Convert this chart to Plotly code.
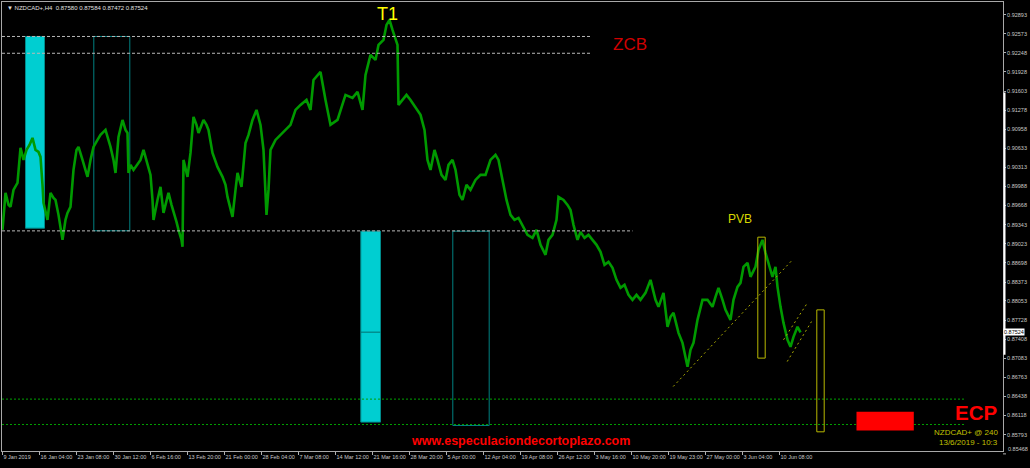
import plotly.graph_objects as go

# ---- price series (H4 bar index, close) ----
bars = [0, 3, 6, 8, 11, 15, 18, 21, 24, 27, 30, 33, 36, 38, 40, 41, 45, 48, 51, 53, 56, 58, 60, 63, 65, 68,
        71, 74, 76, 80, 83, 85, 88, 91, 95, 98, 103, 106, 108, 111, 113, 116, 120, 123, 125, 126, 128, 131,
        135, 138, 141, 145, 148, 150, 151, 155, 158, 161, 164, 166, 169, 171, 174, 176, 179, 180, 181, 185,
        188, 191, 194, 196, 199, 201, 204, 206, 210, 215, 220, 223, 225, 228, 230, 233, 235, 239, 243, 246,
        248, 250, 254, 258, 261, 264, 266, 268, 273, 278, 283, 288, 293, 298, 304, 308, 311, 315, 318, 323,
        328, 335, 343, 350, 355, 360, 363, 368, 373, 376, 381, 384, 387, 390, 393, 395, 396, 400, 404, 408,
        413, 418, 422, 425, 428, 432, 435, 439, 443, 446, 450, 453, 457, 460, 464, 468, 473, 478, 483, 488,
        493, 496, 500, 504, 508, 512, 516, 520, 525, 530, 534, 538, 543, 546, 550, 554, 556, 561, 565, 568,
        571, 575, 578, 582, 586, 590, 594, 598, 602, 606, 610, 614, 618, 622, 626, 630, 634, 638, 643, 648,
        653, 656, 661, 665, 668, 671, 676, 680, 685, 688, 691, 695, 700, 705, 710, 713, 716, 720, 723, 728,
        731, 735, 738, 741, 745, 748, 753, 756, 760, 763, 766, 770, 773, 775, 778, 781, 785, 788, 791, 795, 798]
close = [0.89255, 0.89880, 0.89678, 0.89644, 0.89931, 0.90049, 0.90641, 0.90438, 0.90607, 0.90692, 0.90810,
         0.90607, 0.90573, 0.90489, 0.90016, 0.89711, 0.89424, 0.89880, 0.89796, 0.89762, 0.89509, 0.89306,
         0.89086, 0.89424, 0.89542, 0.89644, 0.90269, 0.90607, 0.90658, 0.90438, 0.90269, 0.90151, 0.90438,
         0.90658, 0.90776, 0.90861, 0.90945, 0.90776, 0.90658, 0.90438, 0.90218, 0.90827, 0.91114, 0.90945,
         0.90894, 0.90218, 0.90354, 0.90269, 0.90354, 0.90438, 0.90607, 0.90387, 0.90185, 0.89762, 0.89424,
         0.89762, 0.89982, 0.89542, 0.89762, 0.89880, 0.89678, 0.89542, 0.89390, 0.89255, 0.89086, 0.88968,
         0.90438, 0.90151, 0.90556, 0.91165, 0.91030, 0.90894, 0.91030, 0.91114, 0.91030, 0.90945, 0.90556,
         0.90320, 0.90151, 0.90016, 0.89813, 0.89593, 0.89475, 0.89931, 0.90218, 0.89982, 0.90725, 0.90861,
         0.90996, 0.91114, 0.91283, 0.91030, 0.90607, 0.89509, 0.89931, 0.90607, 0.90776, 0.90861, 0.90945,
         0.91030, 0.91283, 0.91368, 0.91452, 0.91283, 0.91790, 0.91875, 0.91925, 0.91452, 0.91030, 0.91114,
         0.91537, 0.91486, 0.91587, 0.91283, 0.91875, 0.92213, 0.92128, 0.92382, 0.92466, 0.92720, 0.92804,
         0.92635, 0.92466, 0.92382, 0.91368, 0.91452, 0.91537, 0.91452, 0.91317, 0.91199, 0.90945, 0.90438,
         0.90269, 0.90607, 0.90438, 0.90185, 0.90100, 0.90354, 0.90438, 0.90269, 0.89847, 0.89762, 0.90016,
         0.89931, 0.90100, 0.90185, 0.90185, 0.90438, 0.90523, 0.90438, 0.90100, 0.89762, 0.89509, 0.89424,
         0.89458, 0.89340, 0.89171, 0.89120, 0.89255, 0.89002, 0.88833, 0.89086, 0.89171, 0.89424, 0.89813,
         0.89762, 0.89678, 0.89593, 0.89340, 0.89086, 0.89221, 0.89120, 0.89171, 0.89086, 0.89002, 0.88883,
         0.88664, 0.88714, 0.88613, 0.88410, 0.88275, 0.88326, 0.88157, 0.88072, 0.88157, 0.88072, 0.88190,
         0.88410, 0.88072, 0.87954, 0.88190, 0.87616, 0.87785, 0.87852, 0.87514, 0.87345, 0.86940, 0.87227,
         0.87345, 0.87734, 0.88072, 0.88072, 0.87954, 0.88123, 0.88275, 0.88072, 0.87903, 0.87734, 0.88072,
         0.88292, 0.88359, 0.88630, 0.88697, 0.88461, 0.88630, 0.88917, 0.89086, 0.88866, 0.88697, 0.88461,
         0.88630, 0.88292, 0.87954, 0.87683, 0.87396, 0.87278, 0.87447, 0.87616, 0.87524]

x_tick_bars = [0, 37, 74, 111, 148, 185, 222, 259, 296, 333, 370, 407, 444, 481, 518, 555, 592, 629, 666, 703, 740, 777]
x_tick_labels = ["9 Jan 2019", "16 Jan 04:00", "23 Jan 08:00", "30 Jan 12:00", "6 Feb 16:00", "13 Feb 20:00",
                 "21 Feb 00:00", "28 Feb 04:00", "7 Mar 08:00", "14 Mar 12:00", "21 Mar 16:00", "28 Mar 20:00",
                 "5 Apr 00:00", "12 Apr 04:00", "19 Apr 08:00", "26 Apr 12:00", "3 May 16:00", "10 May 20:00",
                 "19 May 23:00", "27 May 00:00", "3 Jun 04:00", "10 Jun 08:00"]
y_tick_vals = [0.92893, 0.92573, 0.92248, 0.91928, 0.91603, 0.91278, 0.90958, 0.90633, 0.90313, 0.89988,
               0.89668, 0.89343, 0.89023, 0.88698, 0.88373, 0.88053, 0.87728, 0.87408, 0.87083, 0.86763,
               0.86438, 0.86118, 0.85793]
y_bottom_label = 0.85468
last_price = 0.87524
header = "\u25BC NZDCAD+,H4  0.87580 0.87584 0.87472 0.87524"

# ---- drawn objects (levels in price, spans in bar index) ----
zcb_top, zcb_bottom = 0.92525, 0.92241
base_level = 0.89238
green_levels = [0.86394, 0.85965]
cyan_boxes = [(23, 42, 0.92525, 0.89284), (358.3, 378, 0.89233, 0.86005)]
cyan_mid = 0.87526
outline_boxes = [(91.3, 127.3, 0.92525, 0.89240), (450.3, 486.7, 0.89233, 0.85948)]
yellow_boxes = [(755.3, 762.7, 0.89132, 0.87087), (814.3, 821.7, 0.87903, 0.85841)]
trend_lines = [(670.7, 0.86607, 789, 0.88731), (781, 0.87396, 804.7, 0.88016), (784.7, 0.87029, 809, 0.87705)]
red_box = (854, 911.3, 0.86179, 0.85863)
axis_highlight = (0.91577, 0.87142)

Y_MIN, Y_MAX = 0.855168, 0.931077
X_MIN, X_MAX = -0.5, 1000.5
FONT = "Liberation Sans"

fig = go.Figure()
fig.add_trace(go.Scatter(x=bars, y=close, mode="lines",
                         line=dict(color="#009a00", width=2.6), hoverinfo="skip"))

shapes = []
for x0, x1, y0, y1 in cyan_boxes:
    shapes.append(dict(type="rect", xref="x", yref="y", x0=x0, x1=x1, y0=y0, y1=y1,
                       fillcolor="#00ced1", line=dict(color="#008b8b", width=1), layer="below"))
shapes.append(dict(type="line", xref="x", yref="y", x0=cyan_boxes[1][0], x1=cyan_boxes[1][1],
                   y0=cyan_mid, y1=cyan_mid, line=dict(color="#007070", width=1), layer="below"))
for x0, x1, y0, y1 in outline_boxes:
    shapes.append(dict(type="rect", xref="x", yref="y", x0=x0, x1=x1, y0=y0, y1=y1,
                       line=dict(color="#008080", width=1), layer="below"))
for lv in (zcb_top, zcb_bottom):
    shapes.append(dict(type="line", xref="x", yref="y", x0=X_MIN, x1=588, y0=lv, y1=lv,
                       line=dict(color="#b8b8b8", width=1, dash="3px,2px")))
shapes.append(dict(type="line", xref="x", yref="y", x0=X_MIN, x1=630, y0=base_level, y1=base_level,
                   line=dict(color="#b8b8b8", width=1, dash="3px,2px")))
for lv in green_levels:
    shapes.append(dict(type="line", xref="x", yref="y", x0=X_MIN, x1=963, y0=lv, y1=lv,
                       line=dict(color="#00a000", width=1, dash="2px,2px")))
for x0, x1, y0, y1 in yellow_boxes:
    shapes.append(dict(type="rect", xref="x", yref="y", x0=x0, x1=x1, y0=y0, y1=y1,
                       line=dict(color="#b8b800", width=1)))
for x0, y0, x1, y1 in trend_lines:
    shapes.append(dict(type="line", xref="x", yref="y", x0=x0, x1=x1, y0=y0, y1=y1,
                       line=dict(color="#a8a800", width=1, dash="2px,3px")))
shapes.append(dict(type="rect", xref="x", yref="y", x0=red_box[0], x1=red_box[1], y0=red_box[2], y1=red_box[3],
                   fillcolor="#ff0000", line=dict(width=0)))
shapes.append(dict(type="line", xref="paper", yref="y", x0=1.0015, x1=1.0015,
                   y0=axis_highlight[0], y1=axis_highlight[1], line=dict(color="#ffffff", width=2)))

bottom_frac = (y_bottom_label - Y_MIN) / (Y_MAX - Y_MIN)
shapes.append(dict(type="line", xref="paper", yref="paper", x0=1.0, x1=1.003, y0=bottom_frac, y1=bottom_frac,
                   line=dict(color="#b0b0b0", width=1)))

annotations = [
    dict(x=385, y=0.92905, xref="x", yref="y", text="T1", showarrow=False,
         font=dict(family=FONT, size=18, color="#ffff00")),
    dict(x=627, y=0.92382, xref="x", yref="y", text="ZCB", showarrow=False,
         font=dict(family=FONT, size=17, color="#d00000")),
    dict(x=737, y=0.89441, xref="x", yref="y", text="PVB", showarrow=False,
         font=dict(family=FONT, size=12, color="#d8d800")),
    dict(x=973, y=0.86162, xref="x", yref="y", text="<b>ECP</b>", showarrow=False,
         font=dict(family=FONT, size=20.5, color="#ff0000")),
    dict(x=997, y=0.85825, xref="x", yref="y", text="NZDCAD+ @ 240", showarrow=False, xanchor="right",
         font=dict(family=FONT, size=8, color="#c0c000")),
    dict(x=997, y=0.85665, xref="x", yref="y", text="13/6/2019 - 10:3", showarrow=False, xanchor="right",
         font=dict(family=FONT, size=8, color="#c0c000")),
    dict(x=518, y=0.85690, xref="x", yref="y", text="<b>www.especulaciondecortoplazo.com</b>", showarrow=False,
         font=dict(family=FONT, size=12.5, color="#ff0000")),
    dict(x=0.003, y=0.997, xref="paper", yref="paper", text=header, showarrow=False,
         xanchor="left", yanchor="top", font=dict(family=FONT, size=6, color="#e0e0e0")),
    dict(x=1.0, y=last_price, xref="paper", yref="y", text=f"{last_price:.5f}", showarrow=False,
         xanchor="left", xshift=0, bgcolor="#ffffff", borderpad=0,
         font=dict(family=FONT, size=5.5, color="#000000")),
    dict(x=1.0, y=bottom_frac, xref="paper", yref="paper", text=f"{y_bottom_label:.5f}", showarrow=False,
         xanchor="left", xshift=3, font=dict(family=FONT, size=5.5, color="#c8c8c8")),
]

fig.update_layout(
    width=1030, height=468,
    margin=dict(l=2, r=27, t=2, b=17, autoexpand=False),
    paper_bgcolor="#000000", plot_bgcolor="#000000",
    showlegend=False,
    shapes=shapes, annotations=annotations,
    xaxis=dict(range=[X_MIN, X_MAX], tickvals=x_tick_bars, ticktext=x_tick_labels, tickangle=0,
               ticks="outside", ticklen=3, tickcolor="#b0b0b0", ticklabelposition="outside right",
               tickfont=dict(family=FONT, size=5.5, color="#c8c8c8"), automargin=False,
               showgrid=False, zeroline=False, showline=True, linecolor="#a8a8a8", mirror=True),
    yaxis=dict(range=[Y_MIN, Y_MAX], side="right", tickvals=y_tick_vals,
               ticktext=[f"{v:.5f}" for v in y_tick_vals], automargin=False,
               ticks="outside", ticklen=2, tickcolor="#b0b0b0",
               tickfont=dict(family=FONT, size=5.5, color="#c8c8c8"),
               showgrid=False, zeroline=False, showline=True, linecolor="#a8a8a8", mirror=True),
)

fig.write_html("out.html", config={"displayModeBar": False},
               post_script="document.body.style.margin='0px';document.body.style.overflow='hidden';")
